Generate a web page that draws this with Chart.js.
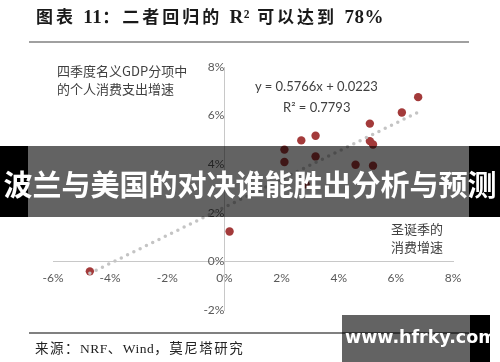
<!DOCTYPE html>
<html>
<head>
<meta charset="utf-8">
<script src="https://cdn.jsdelivr.net/npm/chart.js@4"></script>
<style>
  body { margin: 0; background: #fff; }
  #wrap { position: relative; width: 500px; height: 362px; overflow: hidden; }
  #chart { position: absolute; left: 0; top: 0; }
  .txt { position: absolute; white-space: nowrap; }
  .title { left: 36px; top: 6px; font: bold 17px "Liberation Serif", "Noto Sans CJK SC", serif; letter-spacing: 3px; color: #1a1a1a; line-height: 22px; }
  .title .la { font-size: 19px; letter-spacing: 0.5px; }
  .rule { position: absolute; left: 29px; width: 440px; background: #a0a0a0; }
  .lbl { font: 13px "Noto Sans CJK SC", sans-serif; color: #404040; line-height: 18px; }
  .eq { font: 13px Lato, sans-serif; color: #404040; line-height: 16px; }
  .src { left: 35px; top: 340px; font: 13.5px "Liberation Serif", "Noto Sans CJK SC", serif; letter-spacing: 1.5px; color: #222; line-height: 18px; }
  .src .la { letter-spacing: 0.5px; }
  .band { position: absolute; top: 146px; height: 71px; }
  .bandtxt { position: absolute; left: 0; width: 500px; top: 164px; text-align: center; font: bold 29px "Noto Sans CJK SC", sans-serif; color: #fff; line-height: 38px; }
  .wm { position: absolute; top: 315px; height: 47px; }
  .wmtxt { position: absolute; left: 345px; top: 327px; font: bold 17.5px "DejaVu Sans", sans-serif; color: #fff; line-height: 20px; }
</style>
</head>
<body>
<div id="wrap">
  <canvas id="chart" width="500" height="362"></canvas>

  <div class="txt title">图表 <span class="la">11</span>：二者回归的 <span class="la">R²</span> 可以达到 <span class="la">78%</span></div>
  <div class="rule" style="top:41px;height:2px;"></div>
  <div class="rule" style="top:332px;height:1.5px;background:#808080;"></div>

  <div class="txt lbl" style="left:57px;top:62px;">四季度名义GDP分项中<br>的个人消费支出增速</div>
  <div class="txt eq" style="left:255px;top:78px;">y = 0.5766x + 0.0223</div>
  <div class="txt eq" style="left:283px;top:99px;">R² = 0.7793</div>
  <div class="txt lbl" style="left:391px;top:220px;">圣诞季的<br>消费增速</div>

  <div class="txt src">来源：<span class="la">NRF</span>、<span class="la">Wind</span>，莫尼塔研究</div>

  <div class="band" style="left:0;width:28px;background:#000;"></div>
  <div class="band" style="left:28px;width:441px;background:rgba(0,0,0,0.61);"></div>
  <div class="band" style="left:469px;width:31px;background:#000;"></div>
  <div class="bandtxt">波兰与美国的对决谁能胜出分析与预测</div>

  <div class="wm" style="left:342px;width:128px;background:rgba(0,0,0,0.61);"></div>
  <div class="wm" style="left:470px;width:20px;background:#000;"></div>
  <div class="wmtxt">www.hfrky.com</div>
</div>

<script>
// 圣诞季消费增速 (x, %) vs 四季度个人消费支出增速 (y, %)
const xmas = [-4.71, 0.18, 2.10, 2.10, 2.69, 2.84, 3.19, 3.19, 4.59, 5.09, 5.09, 5.20, 5.20, 6.21, 6.78];
const pce = [-0.41, 1.23, 4.60, 4.09, 4.98, 3.17, 5.17, 4.32, 3.98, 5.67, 4.95, 4.81, 3.94, 6.13, 6.76];

// 趋势线两端
const trendX = [-4.71, 6.78];
const trendY = [-0.49, 6.14];

const xTicks = [-6, -4, -2, 0, 2, 4, 6, 8];
const yTicks = [-2, 0, 2, 4, 6, 8];

const tickFont = { family: "Lato, sans-serif", size: 12 };

new Chart(document.getElementById("chart").getContext("2d"), {
  type: "scatter",
  data: {
    datasets: [
      {
        label: "趋势线",
        type: "line",
        data: trendX.map((x, i) => ({ x: x, y: trendY[i] })),
        borderColor: "#c4c4c4",
        borderWidth: 3.5,
        borderDash: [0, 7],
        borderCapStyle: "round",
        pointRadius: 0,
        fill: false,
        order: 0,
      },
      {
        label: "消费增速",
        data: xmas.map((x, i) => ({ x: x, y: pce[i] })),
        backgroundColor: "#a33a3a",
        borderColor: "#a33a3a",
        borderWidth: 0,
        pointRadius: 4.2,
        order: 1,
      },
    ],
  },
  options: {
    responsive: false,
    animation: false,
    devicePixelRatio: 1,
    layout: { padding: { left: 53, right: 47, top: 67, bottom: 52 } },
    plugins: { legend: { display: false }, tooltip: { enabled: false } },
    scales: {
      x: {
        type: "linear",
        min: -6,
        max: 8,
        position: { y: 0 },
        afterBuildTicks: (s) => { s.ticks = xTicks.map((v) => ({ value: v })); },
        grid: { display: false, drawTicks: false },
        border: { display: true, color: "#c8c8c8", width: 1 },
        ticks: { color: "#595959", font: tickFont, padding: 10, callback: (v) => v + "%" },
      },
      y: {
        type: "linear",
        min: -2,
        max: 8,
        position: { x: 0 },
        afterBuildTicks: (s) => { s.ticks = yTicks.map((v) => ({ value: v })); },
        grid: { display: false, drawTicks: false },
        border: { display: true, color: "#c8c8c8", width: 1 },
        ticks: { color: "#595959", font: tickFont, padding: 11, callback: (v) => v + "%" },
      },
    },
  },
});
</script>
</body>
</html>
